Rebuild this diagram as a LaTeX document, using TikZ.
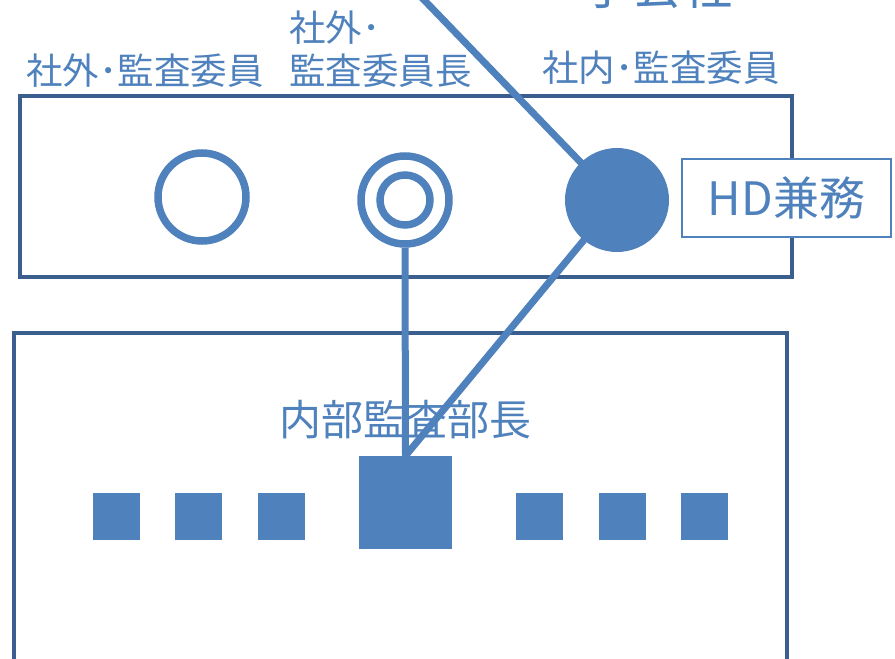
\documentclass[tikz,border=0pt]{standalone}
\usepackage{fontspec}
\setmainfont{Noto Sans CJK JP}
\definecolor{ob}{HTML}{4F81BD}
\definecolor{od}{HTML}{3A5F8E}
\begin{document}
\begin{tikzpicture}[x=1pt,y=-1pt,
  frame/.style={draw=od,line width=4pt},
  ring/.style={draw=ob,line width=7.5pt,circle,minimum size=#1,inner sep=0pt},
  dot/.style={fill=ob,circle,minimum size=#1,inner sep=0pt},
  sq/.style={fill=ob,minimum width=#1,minimum height=#1,inner sep=0pt},
  link/.style={draw=ob,line width=7pt},
  lab/.style={text=ob,font=\fontsize{36.5}{44}\selectfont,inner sep=0pt},
]
\useasboundingbox (0,0) rectangle (895,659);
\begin{scope}
\clip (0,0) rectangle (895,659);
% frames
\draw[frame] (20,96) rectangle (792,277);
\draw[frame] (14,333) rectangle (787,700);
% top partial label
\node[lab,font=\fontsize{50}{60}\selectfont,anchor=base] (sub) at (657,4) {子会社};
% labels
\node[lab,anchor=base] (l1) at (145,84) {社外･監査委員};
\node[lab,anchor=base west] (l2a) at (289,41) {社外･};
\node[lab,anchor=base west] (l2b) at (289,84) {監査委員長};
\node[lab,anchor=base] (l3) at (661,81) {社内･監査委員};
% circles
\node[ring=88pt] (c1) at (202,197) {};
\node[ring=88pt] (c2o) at (405,200) {};
\node[ring=50pt] (c2i) at (405,200) {};
\node[dot=104pt] (c3) at (617,200) {};
% HD box
\node[draw=ob,line width=1.8pt,fill=white,minimum width=209pt,minimum height=78pt,inner sep=0pt,
      text=ob,font=\fontsize{46}{52}\selectfont] (hd) at (786.5,198) {HD兼務};
% internal audit
\node[lab,font=\fontsize{42}{50}\selectfont,anchor=base] (ia) at (405,435) {内部監査部長};
\node[sq=93pt] (big) at (405.5,502.5) {};
\foreach \x/\n in {116.5/s1,198.5/s2,281.5/s3,539.5/s4,622.5/s5,704.5/s6}
  \node[sq=47pt] (\n) at (\x,516.5) {};
% connectors
\coordinate (topend) at (400,-25);
\draw[link] (topend) -- (c3.center);
\draw[link] (c3.center) -- (big.north);
\draw[link] (c2o.south) -- (big.north);
\end{scope}
\end{tikzpicture}
\end{document}
